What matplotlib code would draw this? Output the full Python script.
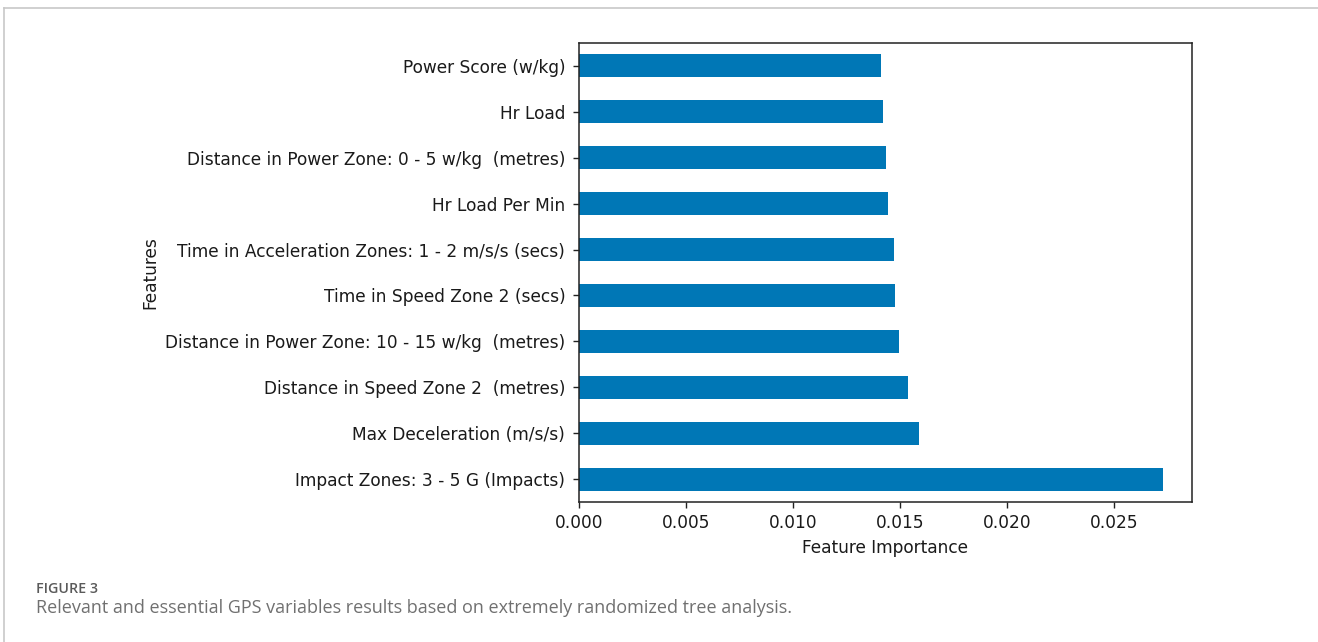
import matplotlib
matplotlib.use("Agg")
import matplotlib.pyplot as plt
from matplotlib.lines import Line2D

features = [
    "Impact Zones: 3 - 5 G (Impacts)",
    "Max Deceleration (m/s/s)",
    "Distance in Speed Zone 2  (metres)",
    "Distance in Power Zone: 10 - 15 w/kg  (metres)",
    "Time in Speed Zone 2 (secs)",
    "Time in Acceleration Zones: 1 - 2 m/s/s (secs)",
    "Hr Load Per Min",
    "Distance in Power Zone: 0 - 5 w/kg  (metres)",
    "Hr Load",
    "Power Score (w/kg)",
]
importance = [0.02728, 0.01590, 0.01537, 0.01497, 0.01479,
              0.01473, 0.01445, 0.01433, 0.01422, 0.01411]
xticks = [0.000, 0.005, 0.010, 0.015, 0.020, 0.025]

FS = 12.25
TXT = "#1a1a1a"

fig = plt.figure(figsize=(13.18, 6.42), dpi=100)
ax = fig.add_axes([0.4391, 0.218, 0.4653, 0.715])

pos = list(range(len(features)))
ax.barh(pos, importance, height=0.5, color="#0077b6")
ax.set_yticks(pos)
ax.set_yticklabels(features, fontsize=FS, color=TXT)
ax.set_ylim(-0.5, len(features) - 0.5)
ax.set_xlim(0, max(importance) * 1.05)
ax.set_xticks(xticks)
ax.set_xticklabels([f"{v:.3f}" for v in xticks], fontsize=FS, color=TXT)
ax.tick_params(length=4.2, width=1, color="#222222")
ax.tick_params(axis="y", pad=5.5)
ax.tick_params(axis="x", pad=4.5)
ax.set_xlabel("Feature Importance", fontsize=FS, color=TXT, labelpad=5)
ax.set_ylabel("Features", fontsize=FS, color=TXT, labelpad=4)
for s in ax.spines.values():
    s.set_color("#222222")
    s.set_linewidth(1.1)

# outer frame lines
fig.add_artist(Line2D([4 / 1318, 4 / 1318], [0, 1 - 8 / 642], color="#c8c8c8", lw=1.2))
fig.add_artist(Line2D([4 / 1318, 1], [1 - 8 / 642, 1 - 8 / 642], color="#c8c8c8", lw=1.2))

fig.text(36 / 1318, 1 - 589 / 642, "FIGURE 3", fontsize=10.3, color="#5a5a5a",
         family="Open Sans", weight="semibold", va="center")
fig.text(36 / 1318, 1 - 608 / 642,
         "Relevant and essential GPS variables results based on extremely randomized tree analysis.",
         fontsize=12.95, color="#707070", family="Open Sans", va="center")

fig.savefig("out.png", dpi=100)
